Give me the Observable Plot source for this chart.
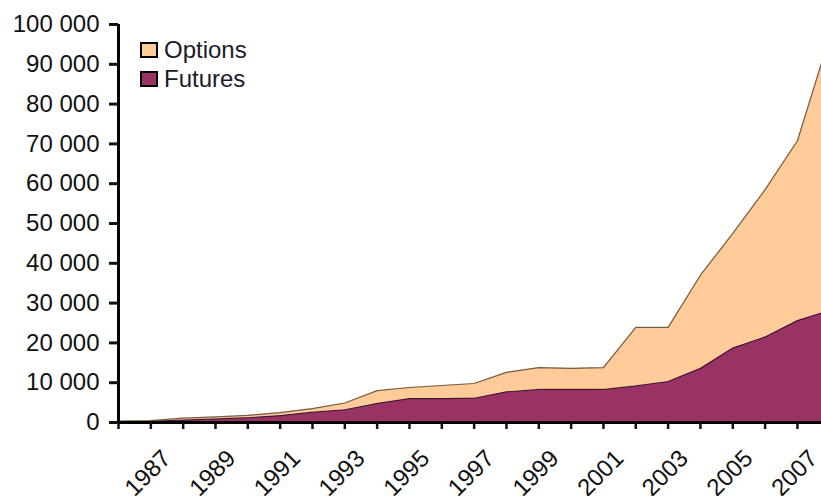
<!DOCTYPE html>
<html><head><meta charset="utf-8">
<script src="https://cdn.jsdelivr.net/npm/d3@7"></script>
<script src="https://cdn.jsdelivr.net/npm/@observablehq/plot@0.6"></script>
<style>
body{margin:0;background:#fff;overflow:hidden;}
#wrap{position:relative;width:821px;height:496px;overflow:hidden;}
.legend{position:absolute;left:140px;top:35px;font:24px "Liberation Sans",Arial,sans-serif;color:#1a1a2a;}
.item{display:flex;align-items:center;height:29px;}
.sw{width:14px;height:12px;border:2.5px solid #000;margin-right:6px;}
</style></head><body><div id="wrap"></div>
<script>
const years   = [1986,1987,1988,1989,1990,1991,1992,1993,1994,1995,1996,1997,1998,1999,2000,2001,2002,2003,2004,2005,2006,2007,2008];
const futures = [200,300,600,900,1200,1750,2600,3200,4800,6000,6000,6100,7700,8300,8300,8300,9200,10300,13600,18700,21500,25600,28200];
const options = [150,200,500,500,600,750,900,1700,3200,2800,3300,3700,4900,5500,5300,5500,14700,13600,23400,28800,37000,45200,68800];
const yTicks = [0,10000,20000,30000,40000,50000,60000,70000,80000,90000,100000];
const tickYears = years.filter(y => y <= 2007);
const labelYears = [1987,1989,1991,1993,1995,1997,1999,2001,2003,2005,2007];
const series = ["Futures","Options"];
const colors = ["#993366","#FFCC99"];
const legendOrder = ["Options","Futures"];

const data = years.flatMap((y,i)=>[
  {year:y,type:"Futures",value:futures[i]},
  {year:y,type:"Options",value:options[i]}
]);
const fmt = d => d3.format(",")(d).replace(/,/g," ");

const plot = Plot.plot({
  width:821, height:496,
  marginLeft:118, marginRight:0, marginTop:24, marginBottom:74,
  style:{fontFamily:"Liberation Sans, Arial, sans-serif", fontSize:"24px", background:"#fff", color:"#111"},
  x:{type:"linear", domain:[1986, 2007.744]},
  y:{domain:[0,100000]},
  color:{domain:series, range:colors},
  marks:[
    Plot.areaY(data,{x:"year",y:"value",fill:"type",order:series,clip:true}),
    Plot.lineY(data, Plot.stackY2({x:"year",y:"value",z:"type",order:series,stroke:"#000",strokeOpacity:0.55,strokeWidth:1.2,clip:true})),
    Plot.ruleY([0],{strokeWidth:3,stroke:"#000"}),
    Plot.ruleX([1986],{strokeWidth:3,stroke:"#000"}),
    Plot.axisY({ticks:yTicks, tickFormat:fmt, tickSize:9, tickPadding:10, strokeWidth:3, fontSize:24, label:null}),
    Plot.axisX({ticks:tickYears, tickSize:7, tickFormat:()=>"", strokeWidth:2.5, label:null}),
    Plot.axisX({ticks:labelYears, tickSize:0, tickFormat:d=>String(d), tickRotate:-45, textAnchor:"end", lineAnchor:"middle", dx:16, dy:20, fontSize:24, label:null})
  ]
});
const wrap = document.getElementById("wrap");
wrap.appendChild(plot);
const leg = document.createElement("div");
leg.className = "legend";
legendOrder.forEach(name => {
  const it = document.createElement("div"); it.className = "item";
  const sw = document.createElement("div"); sw.className = "sw";
  sw.style.background = colors[series.indexOf(name)];
  const t = document.createElement("span"); t.textContent = name;
  it.appendChild(sw); it.appendChild(t); leg.appendChild(it);
});
wrap.appendChild(leg);
</script></body></html>
